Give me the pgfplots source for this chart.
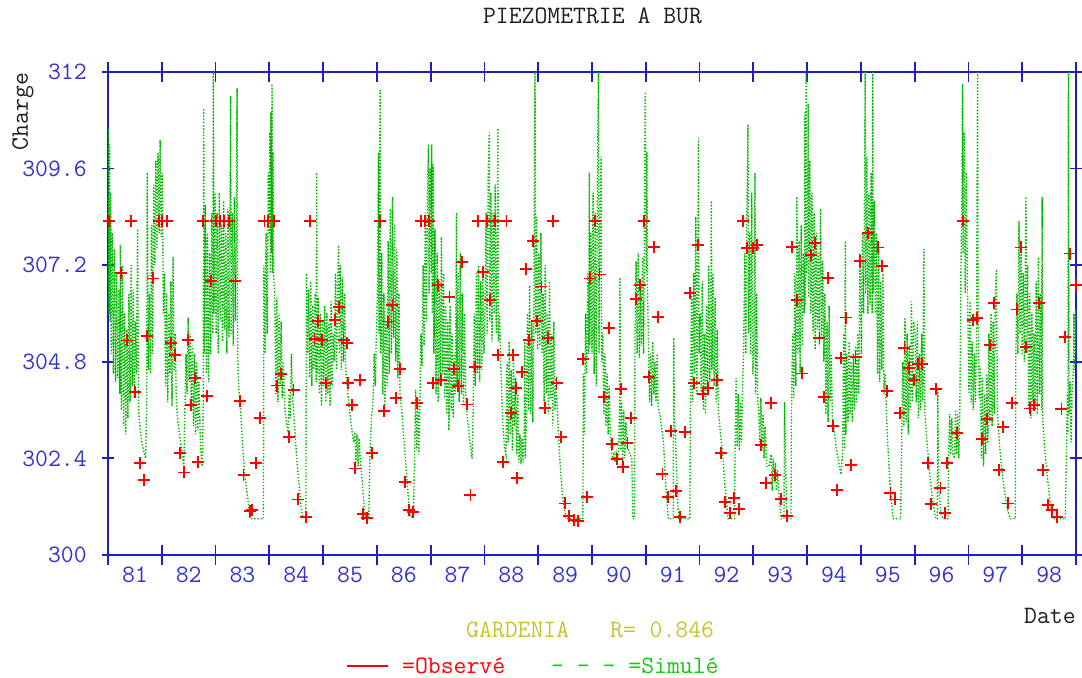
\documentclass[border=0pt]{standalone}
\usepackage{fontspec}
\usepackage{pgfplots}
\pgfplotsset{compat=1.18}
\definecolor{axisblue}{RGB}{30,30,195}
\definecolor{lblblue}{RGB}{50,50,205}
\definecolor{simgreen}{RGB}{0,185,0}
\definecolor{legreen}{RGB}{20,200,20}
\definecolor{gardcol}{RGB}{200,195,50}
\definecolor{txtgray}{RGB}{30,30,30}
\newcommand{\bigtt}{\ttfamily\fontsize{25bp}{30bp}\selectfont}
\begin{document}
\begin{tikzpicture}
\path[use as bounding box] (-108bp,-123bp) rectangle (974bp,555bp);
\begin{axis}[
  at={(0,0)}, anchor=south west,
  width=968bp, height=483bp, scale only axis,
  xmin=1981, xmax=1999, ymin=300, ymax=312,
  xtick={1981,1982,1983,1984,1985,1986,1987,1988,1989,1990,1991,1992,1993,1994,1995,1996,1997,1998,1999},
  x tick label as interval,
  xticklabels={81,82,83,84,85,86,87,88,89,90,91,92,93,94,95,96,97,98},
  ytick={300,302.4,304.8,307.2,309.6,312},
  yticklabels={300,302.4,304.8,307.2,309.6,312},
  tick align=center,
  tick pos=both,
  xtick style={/pgfplots/major tick length=20bp},
  ytick style={/pgfplots/major tick length=12bp},
  tick style={axisblue, line width=1.8bp},
  axis line style={axisblue, line width=1.8bp},
  tick label style={font=\bigtt, text=lblblue},
  xticklabel style={anchor=north, inner sep=0pt, yshift=-10bp},
  yticklabel style={anchor=east, inner sep=0pt, xshift=-19bp},
]
\addplot[simgreen, line width=1.4bp, dash pattern=on 1.4bp off 1.8bp, no markers] coordinates {
(1981.00,306.5)(1981.01,310.6)(1981.02,306.0)(1981.03,310.2)(1981.04,305.8)(1981.05,309.0)(1981.06,305.0)(1981.08,308.0)(1981.10,304.5)(1981.12,307.6)(1981.14,304.3)(1981.16,307.0)(1981.18,304.4)(1981.20,306.6)(1981.22,304.0)(1981.23,307.7)(1981.25,303.6)(1981.27,307.2)(1981.29,303.2)(1981.31,306.0)(1981.33,303.0)(1981.35,305.6)(1981.37,303.4)(1981.39,306.5)(1981.41,303.8)(1981.43,307.2)(1981.45,304.2)(1981.47,306.6)(1981.49,303.9)(1981.51,305.8)(1981.53,304.5)(1981.55,308.1)(1981.57,303.6)(1981.60,303.1)(1981.63,302.8)(1981.66,302.6)(1981.70,302.4)(1981.72,303.8)(1981.73,309.5)(1981.75,304.6)(1981.77,306.5)(1981.79,304.5)(1981.81,308.2)(1981.83,305.0)(1981.85,309.2)(1981.87,307.2)(1981.89,309.8)(1981.91,307.6)(1981.93,310.0)(1981.95,308.0)(1981.97,310.3)(1981.99,307.9)
(1982.01,309.5)(1982.03,306.0)(1982.05,307.0)(1982.07,304.2)(1982.09,306.5)(1982.11,303.8)(1982.13,306.0)(1982.15,304.5)(1982.17,306.8)(1982.19,303.7)(1982.21,307.4)(1982.23,304.6)(1982.25,305.5)(1982.27,303.8)(1982.30,303.3)(1982.34,302.9)(1982.38,302.5)(1982.41,302.2)(1982.43,303.6)(1982.45,305.0)(1982.47,304.0)(1982.49,305.9)(1982.51,304.3)(1982.53,305.5)(1982.55,303.6)(1982.57,305.2)(1982.59,303.2)(1982.61,305.0)(1982.63,303.0)(1982.65,304.8)(1982.67,303.1)(1982.69,304.3)(1982.72,302.7)(1982.75,302.2)(1982.77,303.5)(1982.78,311.1)(1982.79,305.0)(1982.81,308.7)(1982.83,304.5)(1982.85,308.0)(1982.87,304.3)(1982.89,307.5)(1982.91,305.0)(1982.93,308.5)(1982.95,305.5)(1982.96,312.0)(1982.97,306.0)(1982.99,309.0)
(1983.01,305.5)(1983.03,308.5)(1983.05,305.0)(1983.07,309.0)(1983.09,305.8)(1983.11,308.2)(1983.13,305.3)(1983.15,308.8)(1983.17,305.6)(1983.19,308.0)(1983.21,305.0)(1983.23,308.6)(1983.25,305.4)(1983.27,309.0)(1983.28,311.4)(1983.29,305.5)(1983.31,308.5)(1983.33,305.2)(1983.35,308.9)(1983.37,305.8)(1983.39,309.0)(1983.40,311.6)(1983.41,305.0)(1983.43,304.2)(1983.47,303.5)(1983.51,302.6)(1983.55,301.9)(1983.60,301.4)(1983.64,300.9)(1983.89,300.9)(1983.90,307.2)(1983.92,305.0)(1983.94,308.0)(1983.96,305.5)(1983.98,309.5)
(1984.00,308.0)(1984.01,310.5)(1984.02,307.0)(1984.03,311.0)(1984.04,307.5)(1984.05,311.7)(1984.06,307.0)(1984.07,310.0)(1984.08,306.9)(1984.10,306.5)(1984.12,304.0)(1984.14,306.4)(1984.16,303.8)(1984.18,306.0)(1984.20,304.2)(1984.22,305.8)(1984.24,303.9)(1984.26,304.8)(1984.29,303.6)(1984.32,303.3)(1984.35,303.05)(1984.37,304.0)(1984.39,303.4)(1984.41,305.0)(1984.43,304.0)(1984.47,303.2)(1984.51,302.4)(1984.55,301.8)(1984.59,301.2)(1984.62,300.95)(1984.68,300.95)(1984.69,307.0)(1984.71,305.0)(1984.73,306.6)(1984.75,304.4)(1984.77,306.8)(1984.79,304.2)(1984.81,306.2)(1984.83,304.6)(1984.85,306.5)(1984.87,304.3)(1984.88,309.5)(1984.89,304.5)(1984.91,306.4)(1984.93,304.0)(1984.95,306.0)(1984.97,303.7)(1984.99,305.8)
(1985.01,304.2)(1985.03,306.2)(1985.05,303.8)(1985.07,306.0)(1985.09,304.0)(1985.11,305.8)(1985.13,303.7)(1985.15,306.3)(1985.17,304.2)(1985.19,305.5)(1985.21,304.8)(1985.23,307.0)(1985.25,304.6)(1985.27,306.8)(1985.29,307.7)(1985.30,305.0)(1985.32,307.2)(1985.34,304.6)(1985.36,306.9)(1985.38,304.8)(1985.40,306.5)(1985.42,304.6)(1985.46,304.0)(1985.50,303.5)(1985.54,303.05)(1985.57,302.8)(1985.59,303.05)(1985.61,302.3)(1985.63,303.0)(1985.65,302.2)(1985.67,302.9)(1985.69,302.4)(1985.73,301.8)(1985.77,301.1)(1985.79,300.95)(1985.85,300.95)(1985.87,302.5)(1985.90,303.4)(1985.93,303.9)(1985.95,305.0)(1985.97,304.2)(1985.99,305.5)
(1986.01,306.5)(1986.03,310.0)(1986.04,305.5)(1986.06,311.55)(1986.07,305.0)(1986.09,307.5)(1986.11,304.0)(1986.13,306.5)(1986.15,303.7)(1986.17,305.8)(1986.19,304.2)(1986.21,307.8)(1986.23,304.5)(1986.25,308.6)(1986.27,305.0)(1986.29,308.9)(1986.31,305.4)(1986.33,308.2)(1986.35,304.8)(1986.37,307.6)(1986.39,304.4)(1986.41,306.5)(1986.43,304.0)(1986.46,303.6)(1986.50,302.9)(1986.54,302.2)(1986.58,301.5)(1986.62,300.95)(1986.68,300.95)(1986.70,302.5)(1986.72,304.1)(1986.74,302.6)(1986.76,303.9)(1986.78,302.5)(1986.80,303.8)(1986.82,305.5)(1986.84,304.7)(1986.86,307.2)(1986.88,305.2)(1986.90,308.5)(1986.92,305.8)(1986.94,309.0)(1986.96,310.2)(1986.97,306.5)(1986.99,309.6)
(1987.01,307.0)(1987.02,310.2)(1987.03,306.0)(1987.05,309.7)(1987.06,305.0)(1987.08,308.1)(1987.10,304.0)(1987.12,307.5)(1987.14,303.8)(1987.16,306.8)(1987.18,304.2)(1987.20,307.9)(1987.22,304.5)(1987.24,307.0)(1987.26,303.9)(1987.28,306.2)(1987.30,303.5)(1987.32,305.8)(1987.34,303.1)(1987.36,306.2)(1987.38,303.6)(1987.40,305.5)(1987.42,303.4)(1987.44,305.0)(1987.46,304.0)(1987.48,308.5)(1987.49,304.2)(1987.51,307.0)(1987.53,303.8)(1987.55,307.5)(1987.57,304.0)(1987.59,306.5)(1987.61,303.7)(1987.63,306.0)(1987.65,304.0)(1987.69,303.3)(1987.73,302.8)(1987.77,302.4)(1987.79,303.5)(1987.81,306.0)(1987.83,304.2)(1987.85,307.0)(1987.87,304.5)(1987.89,307.2)(1987.91,304.3)(1987.93,306.8)(1987.95,304.6)(1987.97,307.0)(1987.99,305.0)
(1988.01,306.0)(1988.03,308.5)(1988.05,305.5)(1988.07,309.5)(1988.09,310.5)(1988.10,305.8)(1988.12,309.0)(1988.14,305.3)(1988.16,308.5)(1988.18,306.0)(1988.20,309.2)(1988.22,305.5)(1988.24,308.0)(1988.25,310.6)(1988.26,305.3)(1988.28,306.0)(1988.31,304.5)(1988.34,303.3)(1988.37,302.7)(1988.40,302.5)(1988.42,304.8)(1988.44,302.8)(1988.46,305.3)(1988.48,303.0)(1988.50,304.6)(1988.52,302.6)(1988.54,305.0)(1988.56,303.2)(1988.58,304.4)(1988.60,302.5)(1988.62,304.0)(1988.64,302.3)(1988.66,303.0)(1988.68,302.25)(1988.70,302.9)(1988.72,302.3)(1988.74,303.05)(1988.75,305.3)(1988.76,302.4)(1988.78,303.4)(1988.80,306.0)(1988.82,303.6)(1988.84,306.7)(1988.86,303.5)(1988.88,305.8)(1988.90,303.3)(1988.92,306.2)(1988.94,312.0)(1988.95,305.5)(1988.97,308.4)(1988.99,305.1)
(1989.01,307.5)(1989.03,305.2)(1989.05,308.0)(1989.07,305.0)(1989.09,306.5)(1989.11,303.8)(1989.13,307.2)(1989.15,304.0)(1989.17,306.0)(1989.19,303.5)(1989.21,306.8)(1989.23,303.9)(1989.25,305.5)(1989.27,303.2)(1989.29,305.8)(1989.31,303.6)(1989.33,304.4)(1989.37,303.2)(1989.41,302.2)(1989.45,301.5)(1989.49,301.1)(1989.52,300.9)(1989.83,300.9)(1989.84,304.5)(1989.86,303.0)(1989.88,306.0)(1989.90,304.5)(1989.92,307.0)(1989.94,305.0)(1989.95,309.5)(1989.96,305.2)(1989.98,308.0)
(1990.00,305.0)(1990.02,309.0)(1990.04,304.5)(1990.06,308.5)(1990.08,304.2)(1990.10,309.2)(1990.12,312.0)(1990.13,305.0)(1990.15,308.6)(1990.17,309.9)(1990.18,304.8)(1990.20,305.5)(1990.22,303.5)(1990.24,305.0)(1990.26,303.2)(1990.28,304.5)(1990.30,303.0)(1990.32,304.2)(1990.34,302.9)(1990.37,302.5)(1990.39,302.4)(1990.41,302.5)(1990.43,302.3)(1990.45,302.5)(1990.47,302.3)(1990.49,302.5)(1990.51,303.5)(1990.52,306.9)(1990.53,302.6)(1990.55,303.8)(1990.57,302.3)(1990.59,303.6)(1990.61,302.4)(1990.63,303.3)(1990.65,302.7)(1990.68,302.6)(1990.71,302.5)(1990.74,302.4)(1990.76,300.9)(1990.79,300.9)(1990.80,305.5)(1990.82,307.3)(1990.84,305.0)(1990.86,307.5)(1990.88,304.9)(1990.90,306.8)(1990.92,305.2)(1990.94,307.4)(1990.96,305.0)(1990.98,309.5)(1990.99,311.5)
(1991.01,307.0)(1991.02,310.0)(1991.03,306.8)(1991.05,305.3)(1991.07,303.8)(1991.09,305.0)(1991.11,303.7)(1991.13,305.3)(1991.15,304.0)(1991.17,304.8)(1991.19,303.8)(1991.21,305.0)(1991.23,303.7)(1991.26,303.5)(1991.30,303.1)(1991.33,302.8)(1991.36,302.0)(1991.39,301.4)(1991.42,300.9)(1991.51,300.9)(1991.52,305.4)(1991.53,303.5)(1991.55,303.0)(1991.57,302.2)(1991.59,301.5)(1991.61,300.9)(1991.82,300.9)(1991.83,303.6)(1991.85,306.5)(1991.87,303.8)(1991.89,307.0)(1991.91,304.5)(1991.93,308.4)(1991.95,304.0)(1991.97,307.5)(1991.98,310.35)(1991.99,305.0)
(1992.01,306.0)(1992.03,304.0)(1992.05,306.8)(1992.07,303.6)(1992.09,305.5)(1992.11,303.5)(1992.13,306.2)(1992.15,304.0)(1992.17,307.2)(1992.19,304.3)(1992.21,306.5)(1992.22,308.8)(1992.23,304.6)(1992.25,307.0)(1992.27,304.2)(1992.29,306.4)(1992.31,303.8)(1992.33,305.6)(1992.35,303.6)(1992.39,303.0)(1992.43,302.5)(1992.48,301.6)(1992.53,300.9)(1992.65,300.9)(1992.66,302.6)(1992.68,304.4)(1992.70,302.7)(1992.72,304.0)(1992.74,302.6)(1992.76,303.8)(1992.78,302.8)(1992.80,304.2)(1992.82,305.2)(1992.84,307.5)(1992.86,305.0)(1992.88,308.5)(1992.90,310.7)(1992.91,305.5)(1992.93,308.0)(1992.95,305.0)(1992.97,309.0)(1992.99,304.5)
(1993.01,305.0)(1993.03,309.5)(1993.04,304.0)(1993.06,306.5)(1993.08,303.8)(1993.10,303.6)(1993.12,302.8)(1993.14,303.9)(1993.16,302.6)(1993.18,303.5)(1993.20,302.4)(1993.22,303.2)(1993.25,302.2)(1993.29,302.2)(1993.33,302.5)(1993.35,301.6)(1993.37,302.4)(1993.39,301.8)(1993.41,302.3)(1993.43,301.6)(1993.45,302.1)(1993.48,301.4)(1993.52,300.9)(1993.57,300.9)(1993.58,303.8)(1993.60,302.3)(1993.62,300.9)(1993.70,300.9)(1993.71,303.7)(1993.73,305.5)(1993.75,303.9)(1993.77,307.0)(1993.79,304.2)(1993.81,308.9)(1993.83,305.0)(1993.85,307.8)(1993.87,304.5)(1993.89,308.2)(1993.91,305.2)(1993.93,307.5)(1993.95,306.0)(1993.96,311.0)(1993.97,306.2)(1993.98,312.0)(1993.99,307.0)
(1994.01,308.0)(1994.02,311.2)(1994.03,306.4)(1994.05,309.8)(1994.07,306.0)(1994.09,309.0)(1994.11,305.5)(1994.13,308.5)(1994.15,305.1)(1994.17,308.0)(1994.19,305.6)(1994.21,307.5)(1994.23,305.2)(1994.25,308.6)(1994.27,305.4)(1994.29,307.3)(1994.31,304.8)(1994.33,306.5)(1994.35,303.5)(1994.37,305.8)(1994.39,303.3)(1994.41,306.2)(1994.43,303.8)(1994.45,305.0)(1994.47,303.4)(1994.51,303.0)(1994.55,302.6)(1994.59,302.3)(1994.63,302.0)(1994.66,302.5)(1994.68,305.5)(1994.70,302.6)(1994.71,307.8)(1994.72,303.0)(1994.74,305.0)(1994.76,303.3)(1994.78,305.3)(1994.80,303.5)(1994.82,304.8)(1994.84,303.3)(1994.86,305.0)(1994.88,303.6)(1994.90,305.2)(1994.92,303.8)(1994.94,305.5)(1994.96,304.0)(1994.98,307.5)
(1995.01,305.0)(1995.03,308.0)(1995.05,306.0)(1995.07,309.5)(1995.08,312.0)(1995.09,306.5)(1995.11,309.9)(1995.13,306.0)(1995.15,309.0)(1995.17,306.2)(1995.19,309.5)(1995.21,306.0)(1995.22,312.0)(1995.23,306.5)(1995.25,308.8)(1995.27,306.0)(1995.29,308.0)(1995.31,304.5)(1995.33,307.6)(1995.35,304.3)(1995.37,306.8)(1995.39,304.6)(1995.41,307.0)(1995.43,304.0)(1995.45,304.5)(1995.49,303.0)(1995.53,302.0)(1995.57,301.3)(1995.60,300.9)(1995.74,300.9)(1995.76,303.0)(1995.78,304.8)(1995.80,303.2)(1995.82,305.9)(1995.84,303.3)(1995.86,305.5)(1995.88,303.0)(1995.90,305.2)(1995.92,303.6)(1995.94,306.3)(1995.96,303.8)(1995.98,305.8)
(1996.01,305.5)(1996.03,303.8)(1996.05,305.8)(1996.07,303.4)(1996.09,305.0)(1996.11,303.6)(1996.13,305.5)(1996.15,303.8)(1996.17,307.6)(1996.19,303.5)(1996.23,302.8)(1996.28,302.0)(1996.33,301.4)(1996.39,300.9)(1996.42,300.9)(1996.43,304.1)(1996.44,302.0)(1996.46,301.5)(1996.49,301.0)(1996.53,300.9)(1996.62,300.9)(1996.63,302.4)(1996.65,303.5)(1996.67,302.5)(1996.69,303.4)(1996.71,302.5)(1996.74,302.4)(1996.76,303.6)(1996.78,302.5)(1996.80,303.5)(1996.82,302.4)(1996.84,303.6)(1996.86,307.0)(1996.88,309.0)(1996.89,311.7)(1996.90,307.5)(1996.92,310.5)(1996.94,306.5)(1996.96,309.5)(1996.98,306.8)
(1997.01,304.0)(1997.03,306.3)(1997.05,303.8)(1997.07,305.3)(1997.09,303.6)(1997.11,305.0)(1997.13,303.8)(1997.15,305.3)(1997.17,312.0)(1997.18,306.4)(1997.20,303.9)(1997.22,304.7)(1997.24,302.4)(1997.26,304.4)(1997.28,302.2)(1997.30,304.0)(1997.32,302.5)(1997.34,304.5)(1997.36,302.8)(1997.38,305.5)(1997.40,303.3)(1997.42,306.0)(1997.44,303.2)(1997.46,305.8)(1997.48,303.5)(1997.50,306.5)(1997.52,307.1)(1997.54,303.5)(1997.58,302.7)(1997.63,302.0)(1997.68,301.5)(1997.73,301.1)(1997.78,300.9)(1997.87,300.9)(1997.88,304.9)(1997.90,306.5)(1997.92,305.0)(1997.94,308.3)(1997.96,305.5)(1997.98,307.5)
(1998.00,305.0)(1998.02,307.0)(1998.04,304.8)(1998.06,307.5)(1998.07,308.9)(1998.08,305.0)(1998.10,307.2)(1998.12,303.6)(1998.14,306.5)(1998.16,303.4)(1998.18,306.0)(1998.20,303.8)(1998.22,305.5)(1998.24,303.6)(1998.26,306.8)(1998.28,303.5)(1998.30,307.4)(1998.32,304.0)(1998.34,306.5)(1998.36,303.6)(1998.37,308.9)(1998.38,303.4)(1998.42,302.6)(1998.47,301.9)(1998.52,301.3)(1998.57,300.9)(1998.80,300.9)(1998.82,302.4)(1998.84,304.0)(1998.85,303.0)(1998.86,312.0)(1998.87,303.5)(1998.89,304.3)(1998.91,302.8)(1998.93,304.2)(1998.95,304.5)(1998.96,306.0)(1998.97,304.6)(1998.99,306.1)(1999.00,305.0)
};
\addplot[only marks, mark=+, red, mark size=6bp, mark options={line width=1.9bp, solid}] coordinates {
(1981.02,308.3)(1981.24,307.0)(1981.35,305.33)(1981.42,308.3)(1981.50,304.06)(1981.60,302.29)(1981.67,301.86)(1981.73,305.44)(1981.84,306.87)(1981.94,308.3)(1982.01,308.3)(1982.09,308.3)(1982.17,305.27)(1982.25,304.97)(1982.34,302.53)(1982.41,302.05)(1982.49,305.34)(1982.54,303.73)(1982.62,304.39)(1982.67,302.30)(1982.77,308.3)(1982.84,303.95)(1982.92,306.81)
(1983.01,308.3)(1983.08,308.3)(1983.16,308.3)(1983.25,308.3)(1983.37,306.81)(1983.45,303.83)(1983.52,301.99)(1983.64,301.09)(1983.68,301.12)(1983.76,302.28)(1983.83,303.4)(1983.91,308.3)(1983.98,308.3)(1984.08,308.3)(1984.14,304.21)(1984.22,304.49)(1984.37,302.94)(1984.45,304.1)(1984.53,301.38)(1984.68,300.95)(1984.75,308.3)(1984.84,305.37)(1984.90,305.81)(1984.98,305.34)
(1985.06,304.27)(1985.22,305.84)(1985.29,306.17)(1985.38,305.34)(1985.44,305.27)(1985.46,304.27)(1985.54,303.73)(1985.60,302.15)(1985.68,304.35)(1985.75,301.01)(1985.82,300.91)(1985.91,302.54)(1986.05,308.3)(1986.14,303.58)(1986.21,305.8)(1986.29,306.21)(1986.36,303.89)(1986.43,304.62)(1986.52,301.82)(1986.59,301.12)(1986.67,301.06)(1986.75,303.78)(1986.82,308.3)(1986.90,308.3)(1986.97,308.3)
(1987.04,304.27)(1987.14,306.71)(1987.20,304.35)(1987.35,306.42)(1987.43,304.62)(1987.51,304.19)(1987.59,307.29)(1987.67,303.74)(1987.74,301.5)(1987.82,304.68)(1987.88,308.3)(1987.97,307.04)(1988.05,308.3)(1988.11,306.33)(1988.19,308.3)(1988.26,304.97)(1988.34,302.32)(1988.41,308.3)(1988.49,303.52)(1988.53,304.98)(1988.58,304.16)(1988.61,301.92)(1988.69,304.54)(1988.77,307.1)(1988.83,305.34)(1988.91,307.8)(1988.98,305.81)
(1989.06,306.67)(1989.12,303.66)(1989.19,305.4)(1989.27,308.3)(1989.34,304.27)(1989.43,302.94)(1989.50,301.28)(1989.58,300.98)(1989.66,300.87)(1989.74,300.84)(1989.83,304.87)(1989.91,301.43)(1989.97,306.87)(1990.06,308.3)(1990.14,306.97)(1990.22,303.92)(1990.31,305.63)(1990.38,302.75)(1990.46,302.39)(1990.54,304.12)(1990.57,302.19)(1990.66,302.79)(1990.72,303.4)(1990.82,306.35)(1990.90,306.71)(1990.97,308.3)
(1991.06,304.43)(1991.15,307.66)(1991.23,305.92)(1991.31,302.02)(1991.41,301.43)(1991.47,303.08)(1991.56,301.6)(1991.64,300.95)(1991.73,303.06)(1991.82,306.5)(1991.90,304.27)(1991.97,307.7)(1992.07,304.0)(1992.15,304.16)(1992.32,304.35)(1992.40,302.54)(1992.48,301.31)(1992.57,301.04)(1992.64,301.41)(1992.73,301.14)(1992.81,308.3)(1992.89,307.62)(1992.99,307.62)
(1993.06,307.7)(1993.15,302.73)(1993.24,301.78)(1993.33,303.78)(1993.41,301.99)(1993.51,301.39)(1993.63,300.98)(1993.72,307.66)(1993.81,306.33)(1993.90,304.51)(1994.08,307.45)(1994.15,307.76)(1994.23,305.4)(1994.31,303.92)(1994.39,306.89)(1994.48,303.21)(1994.56,301.61)(1994.63,304.9)(1994.73,305.9)(1994.81,302.24)(1994.90,304.93)(1994.98,307.3)
(1995.14,307.99)(1995.32,307.64)(1995.40,307.19)(1995.48,304.08)(1995.55,301.53)(1995.64,301.38)(1995.72,303.52)(1995.81,305.14)(1995.89,304.65)(1995.99,304.35)(1996.07,304.75)(1996.14,304.75)(1996.24,302.29)(1996.31,301.26)(1996.39,304.12)(1996.48,301.67)(1996.57,301.04)(1996.60,302.28)(1996.79,303.02)(1996.90,308.3)
(1997.09,305.84)(1997.16,305.88)(1997.25,302.88)(1997.34,303.37)(1997.40,305.22)(1997.47,306.27)(1997.57,302.11)(1997.65,303.19)(1997.74,301.28)(1997.81,303.78)(1997.90,306.1)(1997.98,307.64)(1998.07,305.17)(1998.14,303.64)(1998.22,303.73)(1998.31,306.25)(1998.39,302.11)(1998.48,301.24)(1998.56,301.12)(1998.64,300.95)(1998.73,303.62)(1998.79,305.42)(1998.89,307.49)(1999.00,306.71)
};
\end{axis}
\node[font=\bigtt, text=txtgray, anchor=base, inner sep=0pt] at (484.5bp,531bp) {PIEZOMETRIE A BUR};
\node[font=\bigtt, text=txtgray, rotate=90, inner sep=0pt] at (-85bp,443.5bp) {Charge};
\node[font=\bigtt, text=txtgray, anchor=base west, inner sep=0pt] at (916bp,-68bp) {Date};
\node[font=\bigtt, text=gardcol, anchor=base west, inner sep=0pt] at (358bp,-82bp) {GARDENIA};
\node[font=\bigtt, text=gardcol, anchor=base west, inner sep=0pt] at (502bp,-82bp) {R=};
\node[font=\bigtt, text=gardcol, anchor=base west, inner sep=0pt] at (541.5bp,-82bp) {0.846};
\draw[red, line width=2bp] (239bp,-110.7bp) -- (280bp,-110.7bp);
\node[font=\bigtt, text=red, anchor=base west, inner sep=0pt] at (294bp,-118bp) {=Observé};
\node[font=\bigtt, text=legreen, anchor=base west, inner sep=0pt] at (443bp,-118bp) {- - - =Simulé};
\end{tikzpicture}
\end{document}
